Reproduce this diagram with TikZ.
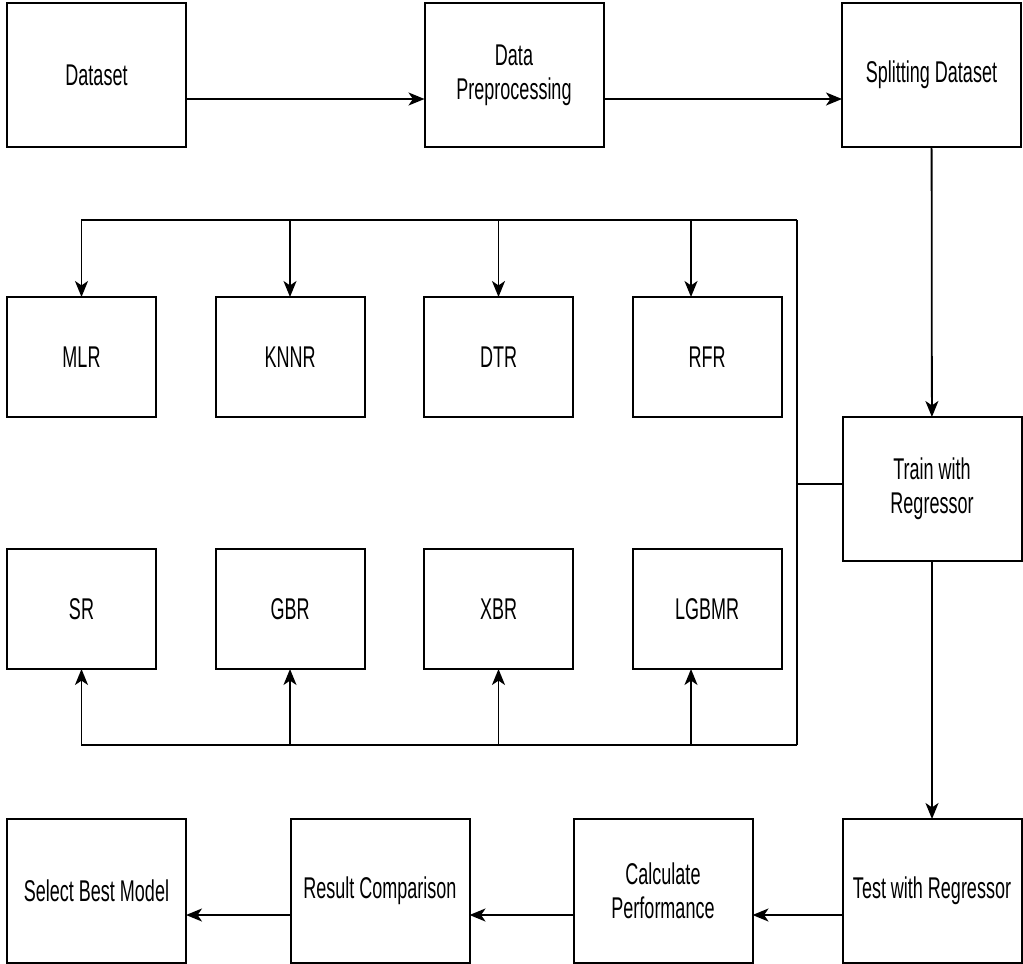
\documentclass[tikz,border=0pt]{standalone}
\usepackage{fontspec}
\setmainfont{Liberation Sans}[FakeStretch=0.6]
\usetikzlibrary{arrows.meta,positioning}

\begin{document}
\begin{tikzpicture}[x=0.5pt,y=-0.5pt,font=\fontsize{15pt}{17pt}\selectfont,
  bigbox/.style={draw,line width=1pt,outer sep=0pt,align=center,minimum width=89.5pt,minimum height=72pt,inner sep=2pt},
  smallbox/.style={draw,line width=1pt,outer sep=0pt,align=center,minimum width=74.5pt,minimum height=60pt,inner sep=2pt},
  arr/.style={line width=0.9pt,-{Stealth[length=8pt,width=6.5pt,inset=2.2pt]}},
  line/.style={line width=0.9pt}]
\useasboundingbox (0,0) rectangle (1023,964);
\node[bigbox] (data) at (96.5,75) {Dataset};
\node[bigbox,right=119.25pt of data] (prep) {Data\\Preprocessing};
\node[bigbox,right=119.25pt of prep] (split) {Splitting Dataset};
\node[smallbox] (mlr) at (81.5,357) {MLR};
\node[smallbox,right=29.75pt of mlr] (knnr) {KNNR};
\node[smallbox,right=29.75pt of knnr] (dtr) {DTR};
\node[smallbox,right=29.75pt of dtr] (rfr) {RFR};
\node[smallbox] (sr) at (81.5,609) {SR};
\node[smallbox,right=29.75pt of sr] (gbr) {GBR};
\node[smallbox,right=29.75pt of gbr] (xbr) {XBR};
\node[smallbox,right=29.75pt of xbr] (lgbmr) {LGBMR};
\node[bigbox] (train) at (932,489) {Train with\\Regressor};
\node[bigbox] (test) at (932,891) {Test with Regressor};
\node[bigbox] (calc) at (663,891) {Calculate\\Performance};
\node[bigbox] (res) at (380,891) {Result Comparison};
\node[bigbox] (best) at (96.5,891) {Select Best Model};
\coordinate (jt) at (797,220);
\coordinate (jm) at (797,484);
\coordinate (jb) at (797,745);
% main flow
\draw[arr] ([yshift=-12pt]data.east) -- ([yshift=-12pt]prep.west);
\draw[arr] ([yshift=-12pt]prep.east) -- ([yshift=-12pt]split.west);
\draw[arr] (split) -- (train);
\draw[arr] (train) -- (test);
\draw[arr] ([yshift=-12pt]test.west) -- ([yshift=-12pt]calc.east);
\draw[arr] ([yshift=-12pt]calc.west) -- ([yshift=-12pt]res.east);
\draw[arr] ([yshift=-12pt]res.west) -- ([yshift=-12pt]best.east);
% regressor bus
\draw[line] (jm) -- (jm -| train.west);
\draw[line] (jt) -- (jb);
\foreach \n in {mlr,knnr,dtr} \draw[arr] (jt) -| (\n);
\draw[arr] (jt) -| ([xshift=-8pt]rfr.north);
\foreach \n in {sr,gbr,xbr} \draw[arr] (jb) -| (\n);
\draw[arr] (jb) -| ([xshift=-8pt]lgbmr.south);
\end{tikzpicture}
\end{document}
